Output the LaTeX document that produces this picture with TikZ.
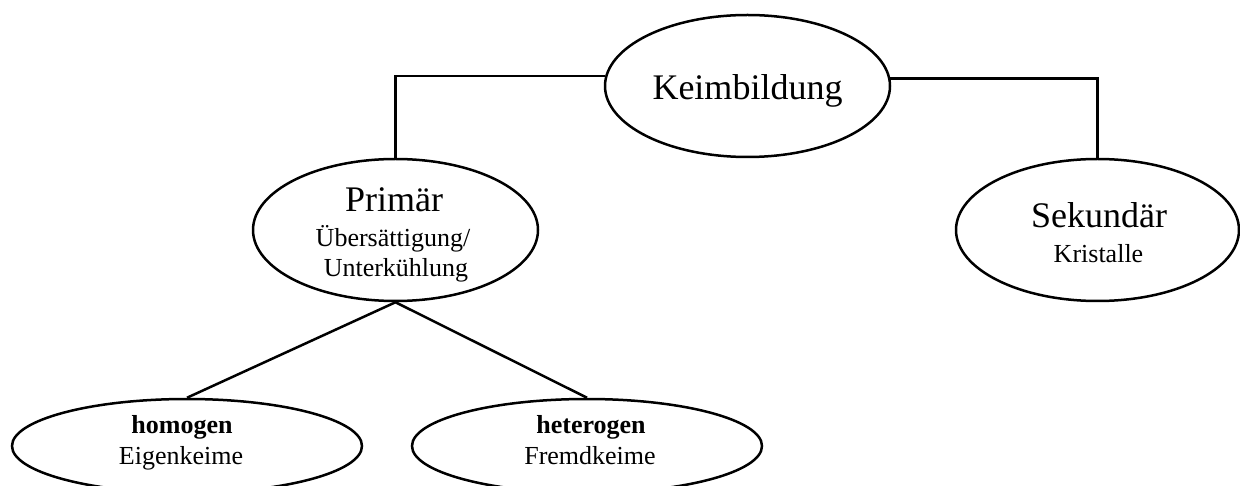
\documentclass[tikz,border=0pt]{standalone}
\usepackage{fontspec}
\setmainfont{Liberation Serif}
\usetikzlibrary{shapes.geometric}
\begin{document}
\begin{tikzpicture}[x=1pt,y=-1pt,
  oval/.style={draw=black,line width=2.5pt,ellipse,inner sep=0pt,fill=white},
  big/.style={anchor=base,inner sep=0pt,font=\fontsize{36}{36}\selectfont},
  small/.style={anchor=base,inner sep=0pt,font=\fontsize{26}{26}\selectfont},
  smallb/.style={anchor=base,inner sep=0pt,font=\fontsize{26}{26}\selectfont\bfseries},
  link/.style={draw=black,line width=2.5pt}]
\useasboundingbox (0,0) rectangle (1240,486);
\clip (0,0) rectangle (1240,486);
\fill[white] (0,0) rectangle (1240,486);
% ellipses
\node[oval,minimum width=285pt,minimum height=142pt] (K) at (747.5,86) {};
\node[oval,minimum width=285pt,minimum height=142pt] (P) at (395.5,230) {};
\node[oval,minimum width=283pt,minimum height=142pt] (S) at (1097.5,230) {};
\node[oval,minimum width=350pt,minimum height=94pt] (H) at (187,446) {};
\node[oval,minimum width=350pt,minimum height=94pt] (E) at (587,446) {};
% connectors
\draw[link] (K.176.8) -| (P.north);
\draw[link] (K.3.2) -| (S.north);
\draw[link] (H.north) -- (P.south) -- (E.north);
% texts
\node[big] (tK) at (747.5,100) {Keimbildung};
\node[big] (tP) at (394,212) {Primär};
\node[small] (tP1) at (393,247) {Übersättigung/};
\node[small] (tP2) at (396,277) {Unterkühlung};
\node[big] (tS) at (1099,228) {Sekundär};
\node[small] (tS1) at (1098.5,263) {Kristalle};
\node[smallb] (tH) at (182,433) {homogen};
\node[small] (tH1) at (181,464) {Eigenkeime};
\node[smallb] (tE) at (591,433) {heterogen};
\node[small] (tE1) at (590,464) {Fremdkeime};
\end{tikzpicture}
\end{document}
